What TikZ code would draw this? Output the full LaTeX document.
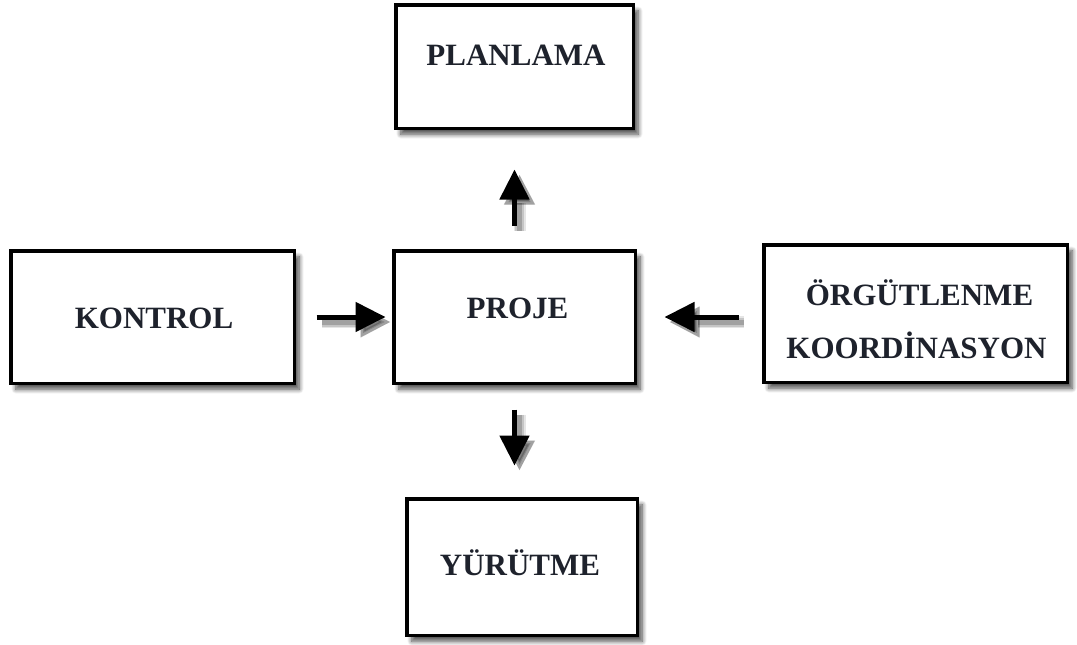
\documentclass[tikz,border=0pt]{standalone}
\usepackage{fontspec}
\setmainfont{Liberation Serif}
\usetikzlibrary{arrows.meta,shadows.blur,calc}
\definecolor{inkdark}{RGB}{30,34,44}
\tikzset{
  box/.style={draw=black, line width=3.5pt, fill=white, inner sep=0pt,
    blur shadow={shadow xshift=5pt, shadow yshift=-6pt,
                 shadow blur radius=4.5pt, shadow blur steps=10, shadow opacity=70}},
  caption/.style={font=\fontsize{31}{38}\selectfont\bfseries, text=inkdark,
    inner sep=0pt, anchor=base},
  flow/.style={line width=5pt, -{Triangle[length=30pt,width=29pt]},
    preaction={draw=black, opacity=0.10, line width=12pt,
               transform canvas={shift={(5pt,-5pt)}}},
    preaction={draw=black, opacity=0.14, line width=9pt,
               transform canvas={shift={(5pt,-5pt)}}},
    preaction={draw=black, opacity=0.18, line width=5pt,
               transform canvas={shift={(5pt,-5pt)}}}},
}
\begin{document}
\begin{tikzpicture}[x=1pt,y=-1pt]
  \useasboundingbox (0,0) rectangle (1077,645);

  % boxes
  \node[box, minimum width=237.5pt, minimum height=123.5pt] (planlama) at (514.5,66.5) {};
  \node[box, minimum width=241.5pt, minimum height=132.5pt] (proje)    at (514.5,317) {};
  \node[box, minimum width=283.5pt, minimum height=132.5pt] (kontrol)  at (152.5,317) {};
  \node[box, minimum width=303.5pt, minimum height=137.5pt] (orgut)    at (915.5,313.5) {};
  \node[box, minimum width=230.5pt, minimum height=136.5pt] (yurutme)  at (522,567) {};

  % captions
  \node[caption] (tplanlama) at (516,65)   {PLANLAMA};
  \node[caption] (tproje)    at (517.5,318) {PROJE};
  \node[caption] (tkontrol)  at (154,328)  {KONTROL};
  \node[caption] (torgut1)   at (919.5,305) {ÖRGÜTLENME};
  \node[caption] (torgut2)   at (916.5,358) {KOORDİNASYON};
  \node[caption] (tyurutme)  at (520,575)  {YÜRÜTME};

  % arrows
  \draw[flow, shorten <=20.5pt, shorten >=6.5pt] (kontrol.east) -- (proje.west);
  \draw[flow, shorten <=23.5pt, shorten >=27.5pt] (orgut.west |- proje.east) -- (proje.east);
  \draw[flow, shorten <=23.5pt, shorten >=39.5pt] (proje.north) -- (proje.north |- planlama.south);
  \draw[flow, shorten <=24.5pt, shorten >=31.5pt] (proje.south) -- (proje.south |- yurutme.north);
\end{tikzpicture}
\end{document}
